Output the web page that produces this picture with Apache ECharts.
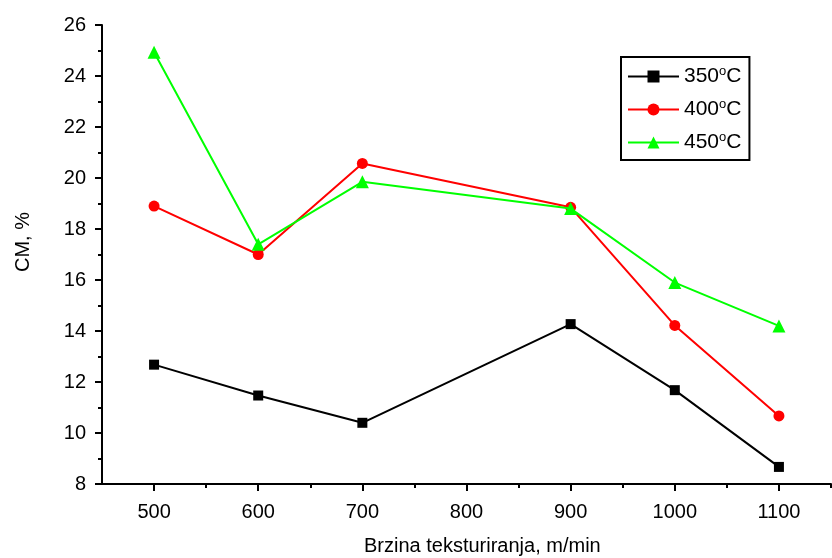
<!DOCTYPE html>
<html>
<head>
<meta charset="utf-8">
<script src="https://cdn.jsdelivr.net/npm/echarts@6/dist/echarts.min.js"></script>
<style>
html,body{margin:0;padding:0;background:#fff;}
#chart{width:832px;height:558px;}
</style>
</head>
<body>
<div id="chart"></div>
<script>
// ---- data ----
const speeds = [500, 600, 700, 900, 1000, 1100];
const seriesNames = ['350°C', '400°C', '450°C'];
const cm350 = [12.68, 11.47, 10.40, 14.27, 11.68, 8.67];
const cm400 = [18.90, 17.00, 20.57, 18.85, 14.22, 10.67];
const cm450 = [24.93, 17.40, 19.85, 18.80, 15.90, 14.20];
const xMajorTicks = [500, 600, 700, 800, 900, 1000, 1100];
const xMinorTicks = [550, 650, 750, 850, 950, 1050, 1150];
const xTitle = 'Brzina teksturiranja, m/min';
const yTitle = 'CM, %';

const FONT = '"Liberation Sans", Arial, sans-serif';
const colors = ['#000000', '#ff0000', '#00ff00'];
const symbols = ['rect', 'circle', 'triangle'];
const symbolSizes = [10, 11, 13];
const allData = [cm350, cm400, cm450];

const chart = echarts.init(document.getElementById('chart'), null, {renderer: 'canvas'});

const series = seriesNames.map((n, i) => ({
  name: n,
  type: 'line',
  xAxisIndex: 0,
  yAxisIndex: 0,
  data: speeds.map((s, k) => [s, allData[i][k]]),
  symbol: symbols[i],
  symbolSize: symbolSizes[i],
  showAllSymbol: true,
  color: colors[i],
  itemStyle: {color: colors[i]},
  lineStyle: {color: colors[i], width: 2},
  z: 3 + i,
  animation: false
}));

const option = {
  backgroundColor: '#ffffff',
  animation: false,
  textStyle: {fontFamily: FONT},
  grid: {left: 102, right: 1, top: 25, bottom: 74, outerBoundsMode: 'none', containLabel: false},
  xAxis: [{
    type: 'value', min: 450, max: 1150, interval: 50,
    axisLine: {show: true, lineStyle: {color: '#000', width: 2}},
    axisTick: {show: true, customValues: xMajorTicks, length: 7, inside: false, lineStyle: {color: '#000', width: 2}},
    axisLabel: {show: true, customValues: xMajorTicks, margin: 18, color: '#000', fontSize: 20, fontFamily: FONT,
      formatter: v => String(v)},
    splitLine: {show: false}
  }, {
    type: 'value', min: 450, max: 1150, interval: 50, position: 'bottom',
    axisLine: {show: false},
    axisTick: {show: true, customValues: xMinorTicks, length: 4, lineStyle: {color: '#000', width: 2}},
    axisLabel: {show: false},
    splitLine: {show: false}
  }],
  yAxis: {
    type: 'value', min: 8, max: 26, interval: 2,
    axisLine: {show: true, lineStyle: {color: '#000', width: 2}},
    axisTick: {show: true, length: 7, lineStyle: {color: '#000', width: 2}},
    minorTick: {show: true, splitNumber: 2, length: 4, lineStyle: {color: '#000', width: 2}},
    axisLabel: {margin: 16, color: '#000', fontSize: 20, fontFamily: FONT, formatter: v => String(v)},
    splitLine: {show: false}
  },
  legend: {
    show: true,
    orient: 'vertical',
    left: 621, top: 57,
    padding: [8, 8, 6, 6],
    borderColor: '#000', borderWidth: 2,
    itemWidth: 51, itemHeight: 15,
    itemGap: 10,
    data: seriesNames,
    formatter: n => n.replace('°', '{sup|o}'),
    textStyle: {
      color: '#000', fontSize: 21, fontFamily: FONT, lineHeight: 23,
      rich: {sup: {fontSize: 13, fontFamily: FONT, color: '#000', verticalAlign: 'top', lineHeight: 23, padding: [0, 0, 10, 0]}}
    }
  },
  graphic: [{
    type: 'text', left: 364, top: 536,
    style: {text: xTitle, font: '20px ' + FONT, fill: '#000'}
  }, {
    type: 'text', rotation: Math.PI / 2, x: 13, y: 272,
    style: {text: yTitle, font: '20px ' + FONT, fill: '#000', textVerticalAlign: 'top'}
  }],
  series: series
};
chart.setOption(option);
</script>
</body>
</html>
